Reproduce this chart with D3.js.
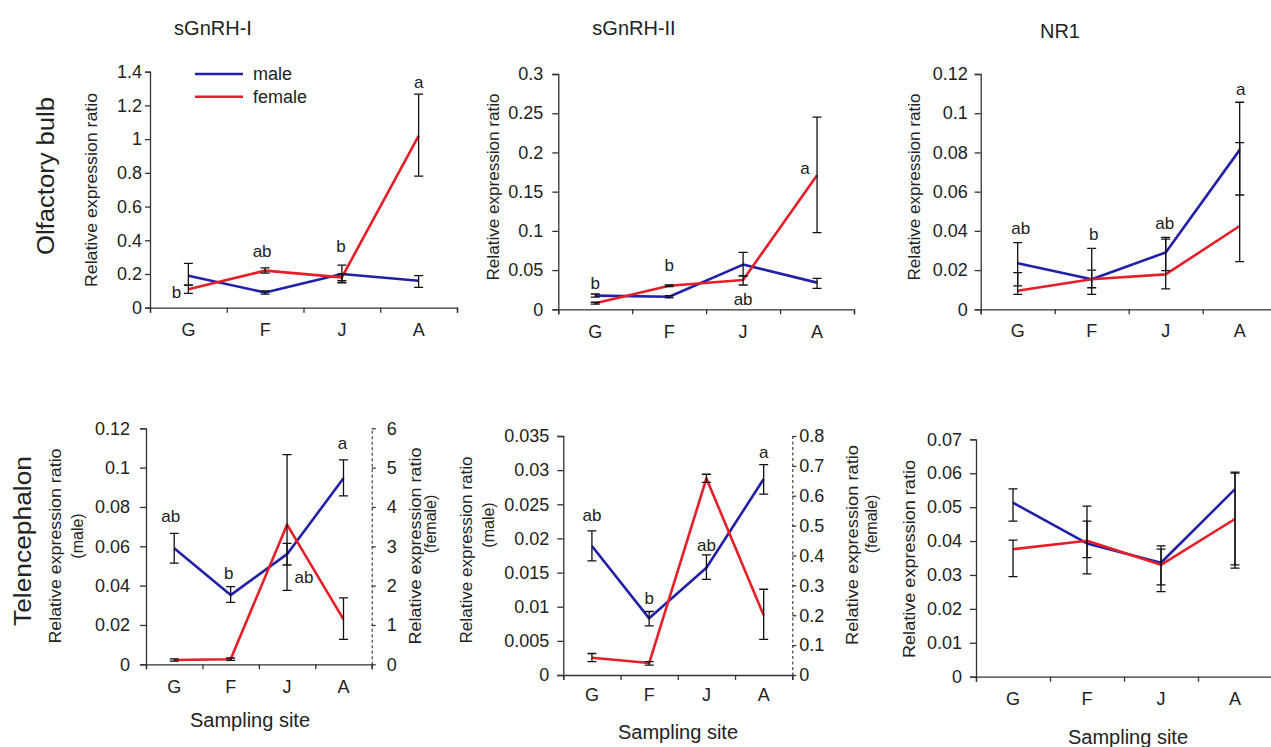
<!DOCTYPE html>
<html><head><meta charset="utf-8">
<script src="https://cdn.jsdelivr.net/npm/d3@7"></script>
<style>
body{margin:0;background:#fff;}
svg text{font-family:"Liberation Sans",Arial,sans-serif;fill:#222;}
</style></head><body>
<svg id="c" width="1271" height="747"></svg>
<script>
// ---------------- DATA ----------------
const categories = ["G","F","J","A"];
const seriesNames = ["male","female"];

// Olfactory bulb – sGnRH-I
const ob1Male = [0.19, 0.09, 0.20, 0.16];
const ob1MaleHi = [0.263, 0.10, 0.253, 0.19];
const ob1MaleLo = [0.134, 0.08, 0.148, 0.121];
const ob1Female = [0.11, 0.22, 0.18, 1.02];
const ob1FemaleHi = [0.134, 0.236, 0.20, 1.267];
const ob1FemaleLo = [0.085, 0.205, 0.16, 0.781];
const ob1Letters = ["b","ab","b","a"];
const ob1Ticks = [0,0.2,0.4,0.6,0.8,1,1.2,1.4];

// Olfactory bulb – sGnRH-II
const ob2Male = [0.0174, 0.016, 0.057, 0.034];
const ob2MaleHi = [0.0195, 0.0175, 0.0727, 0.0395];
const ob2MaleLo = [0.0155, 0.0145, 0.0425, 0.0268];
const ob2Female = [0.0077, 0.030, 0.0374, 0.171];
const ob2FemaleHi = [0.009, 0.031, 0.0425, 0.245];
const ob2FemaleLo = [0.0065, 0.029, 0.031, 0.0977];
const ob2Letters = ["b","b","ab","a"];
const ob2Ticks = [0,0.05,0.1,0.15,0.2,0.25,0.3];

// Olfactory bulb – NR1
const ob3Male = [0.0235, 0.0153, 0.029, 0.0813];
const ob3MaleHi = [0.034, 0.0311, 0.0367, 0.1056];
const ob3MaleLo = [0.0119, 0.0076, 0.0197, 0.0583];
const ob3Female = [0.0095, 0.0153, 0.0178, 0.0425];
const ob3FemaleHi = [0.0187, 0.020, 0.0358, 0.085];
const ob3FemaleLo = [0.0076, 0.011, 0.0104, 0.0243];
const ob3Letters = ["ab","b","ab","a"];
const ob3Ticks = [0,0.02,0.04,0.06,0.08,0.1,0.12];

// Telencephalon – sGnRH-I (female on right axis)
const te1Male = [0.059, 0.0352, 0.056, 0.0946];
const te1MaleHi = [0.0666, 0.0395, 0.0615, 0.1039];
const te1MaleLo = [0.0514, 0.0315, 0.0505, 0.0856];
const te1Female = [0.11, 0.13, 3.55, 1.14];
const te1FemaleHi = [0.14, 0.16, 5.33, 1.69];
const te1FemaleLo = [0.08, 0.10, 1.88, 0.636];
const te1Letters = ["ab","b","ab","a"];
const te1Ticks = [0,0.02,0.04,0.06,0.08,0.1,0.12];
const te1RightTicks = [0,1,2,3,4,5,6];

// Telencephalon – sGnRH-II (female on right axis)
const te2Male = [0.0189, 0.0083, 0.0157, 0.0287];
const te2MaleHi = [0.0211, 0.0093, 0.0176, 0.0308];
const te2MaleLo = [0.0167, 0.0072, 0.014, 0.0265];
const te2Female = [0.058, 0.04, 0.658, 0.2];
const te2FemaleHi = [0.072, 0.045, 0.672, 0.287];
const te2FemaleLo = [0.045, 0.033, 0.645, 0.1195];
const te2Letters = ["ab","b","ab","a"];
const te2Ticks = [0,0.005,0.01,0.015,0.02,0.025,0.03,0.035];
const te2RightTicks = [0,0.1,0.2,0.3,0.4,0.5,0.6,0.7,0.8];

// Telencephalon – NR1
const te3Male = [0.0513, 0.0393, 0.0336, 0.0553];
const te3MaleHi = [0.0554, 0.0503, 0.0386, 0.0603];
const te3MaleLo = [0.0459, 0.0351, 0.0271, 0.033];
const te3Female = [0.0376, 0.0401, 0.033, 0.0465];
const te3FemaleHi = [0.0403, 0.0459, 0.0376, 0.060];
const te3FemaleLo = [0.0295, 0.0303, 0.0251, 0.032];
const te3Ticks = [0,0.01,0.02,0.03,0.04,0.05,0.06,0.07];

// ---------------- LAYOUT ----------------
const COL = {male:"#2121a8", female:"#e61e28"};
const FONT = '"Liberation Sans",Arial,sans-serif';
const svg = d3.select("#c");

const panels = [
 {title:"sGnRH-I", tx:213, ty:35, x0:150, x1:457, yTop:71.7, yBot:307.7, yMax:1.4, ticks:ob1Ticks, tl:5, tp:3,
  m:[ob1Male,ob1MaleHi,ob1MaleLo], f:[ob1Female,ob1FemaleHi,ob1FemaleLo], letters:ob1Letters,
  lpos:[[-12,9,'f'],[-3,-14,'f'],[-1,-22,'m'],[0,-48,'f']], xlab:336,
  ylab:[[97,190,194,"Relative expression ratio"]]},
 {title:"sGnRH-II", tx:634, ty:35, x0:558.3, x1:854, yTop:74, yBot:309.3, yMax:0.3, ticks:ob2Ticks, tl:6, tp:9,
  m:[ob2Male,ob2MaleHi,ob2MaleLo], f:[ob2Female,ob2FemaleHi,ob2FemaleLo], letters:ob2Letters,
  lpos:[[0,-7,'m'],[0,-15,'f'],[0,25,'f'],[-12,-1,'f']], xlab:338,
  ylab:[[499,187,187,"Relative expression ratio"]]},
 {title:"NR1", tx:1060, ty:38, x0:980.7, x1:1276.7, yTop:74, yBot:309.3, yMax:0.12, ticks:ob3Ticks, tl:6, tp:7,
  m:[ob3Male,ob3MaleHi,ob3MaleLo], f:[ob3Female,ob3FemaleHi,ob3FemaleLo], letters:ob3Letters,
  lpos:[[3,-29,'m'],[2,-39,'m'],[-1,-23,'m'],[1,-55,'m']], xlab:337,
  ylab:[[920,187,187,"Relative expression ratio"]]},
 {x0:146, x1:371.7, yTop:428.3, yBot:664.3, yMax:0.12, ticks:te1Ticks, tl:6, tp:10,
  fMax:6, rticks:te1RightTicks, rp:11,
  m:[te1Male,te1MaleHi,te1MaleLo], f:[te1Female,te1FemaleHi,te1FemaleLo], letters:te1Letters,
  lpos:[[-3.5,-26,'m'],[-2,-16,'m'],[17,28.5,'m'],[-1,-29,'m']], xlab:693,
  samp:[250,727],
  ylab:[[61,546,195,"Relative expression ratio"],[83,536,0,"(male)"],[421,546,197,"Relative expression ratio"],[436,524,0,"(female)"]]},
 {x0:563.3, x1:792.3, yTop:436, yBot:675, yMax:0.035, ticks:te2Ticks, tl:6, tp:8,
  fMax:0.8, rticks:te2RightTicks, rp:3,
  m:[te2Male,te2MaleHi,te2MaleLo], f:[te2Female,te2FemaleHi,te2FemaleLo], letters:te2Letters,
  lpos:[[0,-25,'m'],[0,-14,'m'],[0,-17,'m'],[0,-21,'m']], xlab:701,
  samp:[678,739],
  ylab:[[472,550,187,"Relative expression ratio"],[494,525,0,"(male)"],[858,545,200,"Relative expression ratio"],[877,524,0,"(female)"]]},
 {x0:976, x1:1272, yTop:439.3, yBot:676.7, yMax:0.07, ticks:te3Ticks, tl:6, tp:8,
  m:[te3Male,te3MaleHi,te3MaleLo], f:[te3Female,te3FemaleHi,te3FemaleLo], letters:null, xlab:705,
  samp:[1128,744],
  ylab:[[915,559,198,"Relative expression ratio"]]}
];

function styleAxis(sel){
  sel.attr("font-size",18).attr("font-family",FONT).attr("color","#222");
  sel.selectAll("path.domain").attr("stroke","#333").attr("stroke-width",1.3);
  sel.selectAll(".tick line").attr("stroke","#333").attr("stroke-width",1.3);
}

function rotText(x,y,txt,size,len){
  const t = svg.append("text").attr("transform",`translate(${x},${y}) rotate(-90)`)
    .attr("text-anchor","middle").attr("font-size",size).text(txt);
  if(len) t.attr("textLength",len).attr("lengthAdjust","spacingAndGlyphs");
  return t;
}

panels.forEach(p=>{
  const g = svg.append("g");
  const x = d3.scaleBand().domain(categories).range([p.x0,p.x1]);
  const xb = d3.scaleLinear().domain([0,categories.length]).range([p.x0,p.x1]);
  const yM = d3.scaleLinear().domain([0,p.yMax]).range([p.yBot,p.yTop]);
  const yF = p.fMax ? d3.scaleLinear().domain([0,p.fMax]).range([p.yBot,p.yTop]) : yM;
  const cx = c => x(c)+x.bandwidth()/2;

  // left axis
  g.append("g").attr("transform",`translate(${p.x0},0)`)
    .call(d3.axisLeft(yM).tickValues(p.ticks).tickSize(p.tl).tickPadding(p.tp).tickFormat(d3.format("~g")))
    .call(styleAxis);
  // right axis (dashed)
  if(p.fMax){
    const ra = g.append("g").attr("transform",`translate(${p.x1},0)`)
      .call(d3.axisRight(yF).tickValues(p.rticks).tickSize(4).tickPadding(p.rp).tickSizeOuter(0).tickFormat(d3.format("~g")))
      .call(styleAxis);
    ra.selectAll("path.domain").attr("stroke-dasharray","3,2.5").attr("stroke-width",1.1);
  }
  // x axis with boundary ticks
  g.append("g").attr("transform",`translate(0,${p.yBot})`)
    .call(d3.axisBottom(xb).tickValues(d3.range(0,categories.length+1)).tickSize(5).tickFormat(""))
    .call(styleAxis);
  // category labels
  const pad = p.xlab - p.yBot - 0.71*18;
  const xl = g.append("g").attr("transform",`translate(0,${p.yBot})`)
    .call(d3.axisBottom(x).tickSize(0).tickPadding(pad))
    .call(styleAxis);
  xl.select("path.domain").remove();

  // lines
  const series = [["male",p.m,yM],["female",p.f,yF]];
  series.forEach(([name,arr,ys])=>{
    const line = d3.line().x((d,i)=>cx(categories[i])).y(d=>ys(d));
    g.append("path").datum(arr[0]).attr("d",line).attr("fill","none")
      .attr("stroke",COL[name]).attr("stroke-width",2.6).attr("stroke-linejoin","round");
  });
  // error bars
  series.forEach(([name,arr,ys])=>{
    categories.forEach((c,i)=>{
      const xx = cx(c), h = ys(arr[1][i]), l = ys(arr[2][i]), w = 4.5;
      g.append("path").attr("d",`M${xx},${h}V${l}M${xx-w},${h}H${xx+w}M${xx-w},${l}H${xx+w}`)
        .attr("fill","none").attr("stroke","#111").attr("stroke-width",1.3);
    });
  });
  // significance letters
  if(p.letters){
    p.letters.forEach((t,i)=>{
      const [dx,dy,ref] = p.lpos[i];
      const v = ref==='m' ? yM(p.m[0][i]) : yF(p.f[0][i]);
      g.append("text").attr("x",cx(categories[i])+dx).attr("y",v+dy)
        .attr("text-anchor","middle").attr("font-size",17).text(t);
    });
  }
  // title
  if(p.title){
    svg.append("text").attr("x",p.tx).attr("y",p.ty).attr("text-anchor","middle")
      .attr("font-size",20).text(p.title);
  }
  if(p.samp){
    svg.append("text").attr("x",p.samp[0]).attr("y",p.samp[1]).attr("text-anchor","middle")
      .attr("font-size",20).text("Sampling site");
  }
  p.ylab.forEach(([lx,ly,len,txt])=> rotText(lx,ly,txt,16,len));
});

// legend (in first panel)
const lg = svg.append("g");
seriesNames.forEach((s,i)=>{
  const yy = 74 + i*22.7;
  lg.append("line").attr("x1",195).attr("x2",243).attr("y1",yy).attr("y2",yy)
    .attr("stroke",COL[s]).attr("stroke-width",2.6);
  lg.append("text").attr("x",253).attr("y",yy).attr("dy","0.35em").attr("font-size",18).text(s);
});

// row labels
rotText(54,176,"Olfactory bulb",23,158);
rotText(31,541,"Telencephalon",23,170);
</script>
</body></html>
